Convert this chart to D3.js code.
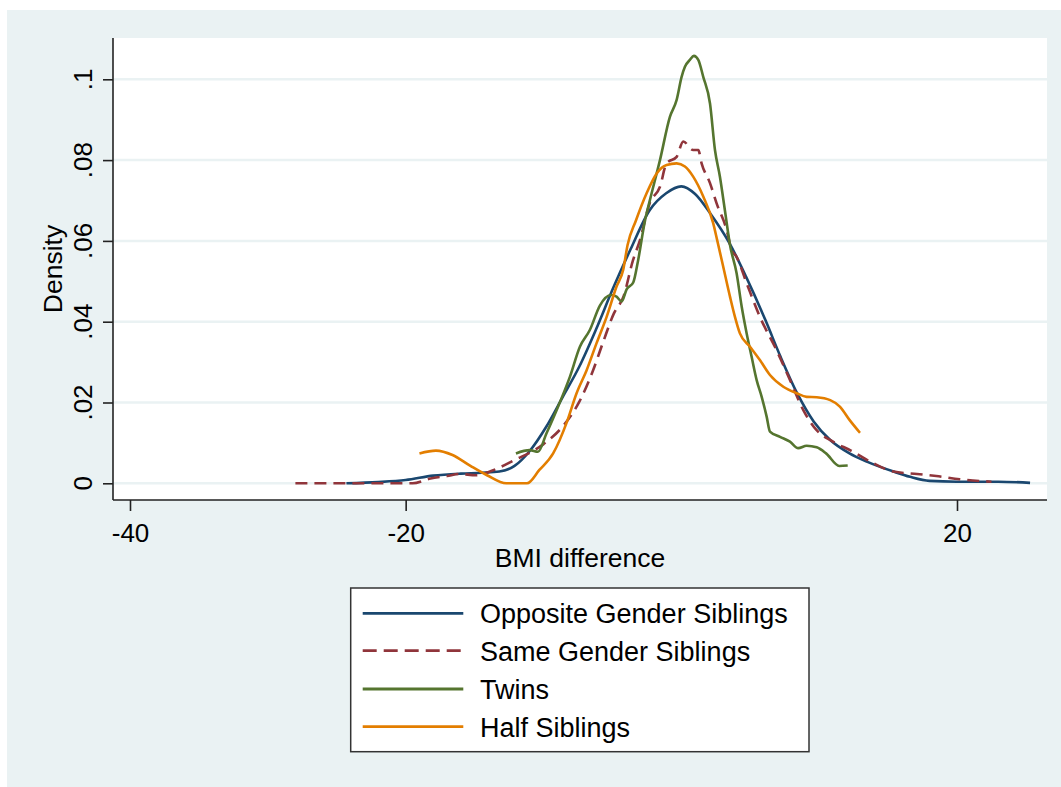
<!DOCTYPE html>
<html>
<head>
<meta charset="utf-8">
<script src="https://cdn.jsdelivr.net/npm/d3@7"></script>
<style>
  body { margin: 0; background: #fff; }
  svg { display: block; font-family: "Liberation Sans", Arial, sans-serif; }
</style>
</head>
<body>
<div id="chart"></div>
<script>
// kdensity estimates: [BMI difference, density]
const oppositeGender = [
  [-24.3, 0], [-22, 0.0003], [-20, 0.0008], [-18, 0.0019], [-16, 0.0024], [-14.5, 0.0026],
  [-13.2, 0.0029], [-12.1, 0.0043], [-11, 0.008], [-9.8, 0.014], [-8.6, 0.0214], [-7.4, 0.0289],
  [-6.2, 0.038], [-4.9, 0.0487], [-3.7, 0.0578], [-2.3, 0.0676], [-1.1, 0.0718], [0, 0.0735],
  [1, 0.0716], [2.1, 0.0668], [3.5, 0.0594], [4.7, 0.0511], [6.1, 0.0404], [7.2, 0.0313],
  [8.4, 0.0223], [9.6, 0.0153], [10.8, 0.0107], [12.2, 0.0074], [13.5, 0.0053], [15.4, 0.0029],
  [16.6, 0.0016], [18, 0.0006], [20, 0.0004], [23, 0.0004], [25.3, 0.0001]
];
const sameGender = [
  [-28, 0], [-25.3, 0], [-19.5, 0], [-18.2, 0.0012], [-17, 0.0018], [-16.1, 0.0023], [-14.9, 0.002],
  [-13.6, 0.0033], [-12.2, 0.0056], [-10, 0.0097], [-8.5, 0.0145], [-7.4, 0.0202], [-6.4, 0.028],
  [-5.7, 0.0347], [-4.9, 0.042], [-4.2, 0.0462], [-3.5, 0.0553], [-3.0, 0.0602], [-2.3, 0.0693],
  [-1.55, 0.0734], [-1.07, 0.0792], [-0.34, 0.0808], [0.14, 0.0846], [0.86, 0.0825], [1.23, 0.0825],
  [1.47, 0.0792], [2.08, 0.0743], [2.56, 0.0693], [3.29, 0.0627], [3.65, 0.0577], [4.0, 0.0561],
  [4.74, 0.0495], [5.7, 0.0412], [6.9, 0.033], [7.88, 0.0256], [8.85, 0.0181], [9.8, 0.0132],
  [11, 0.0103], [12.3, 0.0081], [13.9, 0.005], [15.4, 0.0029], [17.1, 0.0023], [18.5, 0.0018],
  [20.2, 0.001], [22.5, 0.0004]
];
const twins = [
  [-12, 0.0074], [-11, 0.0082], [-10.4, 0.0078], [-9.78, 0.0124], [-9.05, 0.0181], [-8.08, 0.0264],
  [-7.36, 0.0338], [-6.63, 0.038], [-5.91, 0.0440], [-5.1, 0.0466], [-4.7, 0.0462], [-4.33, 0.045],
  [-3.97, 0.048], [-3.49, 0.0497], [-3.13, 0.0553], [-2.64, 0.065], [-2.28, 0.0701], [-1.55, 0.08],
  [-0.83, 0.0907], [-0.34, 0.0949], [0.02, 0.1006], [0.26, 0.1031], [0.62, 0.1048], [0.91, 0.1058],
  [1.23, 0.1048], [1.59, 0.1006], [2.08, 0.094], [2.44, 0.0825], [2.8, 0.0759], [3.16, 0.0676],
  [3.53, 0.059], [4.01, 0.052], [4.38, 0.0437], [4.74, 0.0371], [5.1, 0.0313], [5.46, 0.0256],
  [5.83, 0.0214], [6.19, 0.0165], [6.43, 0.0128], [7.16, 0.0115], [7.88, 0.0103], [8.48, 0.0087],
  [9.09, 0.0093], [9.82, 0.0089], [10.5, 0.0074], [11.46, 0.0043], [12.07, 0.0044]
];
const halfSiblings = [
  [-19.0, 0.0074], [-17.8, 0.0081], [-16.6, 0.007], [-15.3, 0.0043], [-14.1, 0.002], [-12.7, 0],
  [-11.2, 0], [-10.3, 0.0033], [-9.3, 0.0074], [-8.3, 0.0152], [-7.6, 0.0223], [-6.87, 0.028],
  [-6.15, 0.0347], [-5.42, 0.0412], [-4.7, 0.0487], [-4.22, 0.0528], [-3.9, 0.059], [-3.3, 0.065],
  [-2.52, 0.0718], [-1.79, 0.0767], [-1.07, 0.0788], [-0.34, 0.0792], [0.26, 0.0784], [0.86, 0.0759],
  [1.59, 0.071], [2.31, 0.0644], [2.6, 0.0602], [3.04, 0.0536], [3.53, 0.0462], [3.89, 0.0412],
  [4.25, 0.0371], [4.98, 0.0338], [5.7, 0.0305], [6.43, 0.0268], [7.4, 0.0239], [8.37, 0.0223],
  [9.09, 0.0214], [9.82, 0.0213], [10.8, 0.0206], [11.5, 0.019], [12.2, 0.0157], [12.96, 0.0125]
];

const seriesNames = ["Opposite Gender Siblings", "Same Gender Siblings", "Twins", "Half Siblings"];
const seriesColors = ["#1a476f", "#90353b", "#55752f", "#e37e00"];
const xTicks = [-40, -20, 20];
const yTicks = [0, 0.02, 0.04, 0.06, 0.08, 0.1];

const W = 1061, H = 787;
const plot = {left: 113, right: 1047, top: 38, bottom: 500};

const svg = d3.select("#chart").append("svg")
    .attr("width", W)
    .attr("height", H);

// graph region (Stata s2color)
svg.append("rect")
    .attr("x", 7).attr("y", 10)
    .attr("width", W - 7).attr("height", H - 10)
    .attr("fill", "#eaf2f3");

svg.append("rect")
    .attr("x", plot.left).attr("y", plot.top)
    .attr("width", plot.right - plot.left).attr("height", plot.bottom - plot.top)
    .attr("fill", "#fff");

const x = d3.scaleLinear().domain([-40, 20]).range([130, 957]);
const y = d3.scaleLinear().domain([0, 0.1]).range([483.3, 79.3]);

// gridlines
svg.append("g")
    .selectAll("line")
    .data(yTicks)
    .join("line")
    .attr("x1", plot.left).attr("x2", plot.right)
    .attr("y1", d => y(d)).attr("y2", d => y(d))
    .attr("stroke", "#eaf2f3")
    .attr("stroke-width", 2.5);

// curves
const line = d3.line()
    .x(d => x(d[0]))
    .y(d => y(d[1]))
    .curve(d3.curveMonotoneX);

const allSeries = [oppositeGender, sameGender, twins, halfSiblings];
// draw order: opposite, same, twins, half (half on top)
allSeries.forEach((s, i) => {
    svg.append("path")
        .attr("d", line(s))
        .attr("fill", "none")
        .attr("stroke", seriesColors[i])
        .attr("stroke-width", 2.6)
        .attr("stroke-linejoin", "round")
        .attr("stroke-dasharray", i === 1 ? "12,7" : null);
});

// axes
const xAxis = d3.axisBottom(x).tickValues(xTicks).tickSize(11).tickPadding(6)
    .tickFormat(d => d);
const gx = svg.append("g")
    .attr("transform", `translate(0,${plot.bottom})`)
    .call(xAxis);
gx.select(".domain").attr("d", `M${plot.left},0H${plot.right}`);

const yAxis = d3.axisLeft(y).tickValues(yTicks).tickSize(10).tickFormat(() => "");
const gy = svg.append("g")
    .attr("transform", `translate(${plot.left},0)`)
    .call(yAxis);
gy.select(".domain").attr("d", `M0,${plot.top}V${plot.bottom}`);

[gx, gy].forEach(g => {
    g.select(".domain").attr("stroke", "#222").attr("stroke-width", 1.6);
    g.selectAll(".tick line").attr("stroke", "#222").attr("stroke-width", 1.6);
});
gx.selectAll(".tick text")
    .attr("fill", "#000")
    .attr("font-size", 26)
    .attr("font-family", "Liberation Sans, Arial, sans-serif")
    .attr("dy", null)
    .attr("y", 41.7);

// y tick labels rotated, Stata-style
svg.append("g")
    .selectAll("text")
    .data(yTicks)
    .join("text")
    .attr("transform", d => `translate(92,${y(d)}) rotate(-90)`)
    .attr("text-anchor", "middle")
    .attr("font-size", 26)
    .text(d => d === 0 ? "0" : d3.format(".2~f")(d).replace(/^0/, ""));

// axis titles
svg.append("text")
    .attr("transform", `translate(61.5,${(plot.top + plot.bottom) / 2}) rotate(-90)`)
    .attr("text-anchor", "middle")
    .attr("font-size", 26.5)
    .text("Density");

svg.append("text")
    .attr("x", (plot.left + plot.right) / 2)
    .attr("y", 567)
    .attr("text-anchor", "middle")
    .attr("font-size", 26.5)
    .text("BMI difference");

// legend
const legend = svg.append("g");
legend.append("rect")
    .attr("x", 350.7).attr("y", 588)
    .attr("width", 458.3).attr("height", 163.7)
    .attr("fill", "#fff")
    .attr("stroke", "#333")
    .attr("stroke-width", 1.5);

const rowY = [613.3, 650.7, 689, 726.7];
seriesNames.forEach((name, i) => {
    legend.append("line")
        .attr("x1", 362.7).attr("x2", 463.3)
        .attr("y1", rowY[i]).attr("y2", rowY[i])
        .attr("stroke", seriesColors[i])
        .attr("stroke-width", 2.8)
        .attr("stroke-dasharray", i === 1 ? "14,7" : null);
    legend.append("text")
        .attr("x", 480)
        .attr("y", rowY[i] + 10)
        .attr("font-size", 27)
        .text(name);
});
</script>
</body>
</html>
